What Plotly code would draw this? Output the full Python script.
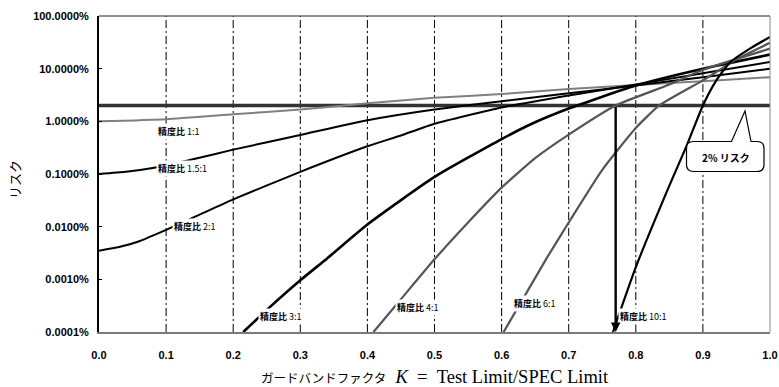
import math
import plotly.graph_objects as go

# Guard band factor K (test limit / spec limit) and consumer risk in percent
k_1to1 = [0.0, 0.1, 0.2, 0.3, 0.4, 0.5, 0.6, 0.7, 0.8, 0.9, 1.0]
risk_1to1 = [1.0, 1.1, 1.36, 1.67, 2.2, 2.8, 3.3, 4.1, 4.9, 5.8, 6.9]

k_1p5to1 = [0.0, 0.04, 0.08, 0.14, 0.2, 0.3, 0.4, 0.5, 0.6, 0.7, 0.8, 0.9, 1.0]
risk_1p5to1 = [0.10, 0.11, 0.13, 0.19, 0.29, 0.55, 1.05, 1.68, 2.4, 3.4, 4.8, 6.9, 10.0]

k_2to1 = [0.0, 0.03, 0.06, 0.1, 0.145, 0.2, 0.3, 0.4, 0.45, 0.5, 0.6, 0.7, 0.8, 0.9, 1.0]
risk_2to1 = [0.0035, 0.0041, 0.0053, 0.0087, 0.0158, 0.033, 0.11, 0.336, 0.54, 0.9,
             1.83, 3.1, 5.0, 8.2, 13.4]

k_3to1 = [0.215, 0.255, 0.3, 0.34, 0.4, 0.5, 0.6, 0.645, 0.7, 0.8, 0.9, 1.0]
risk_3to1 = [0.0001, 0.0003, 0.00096, 0.0025, 0.011, 0.088, 0.46, 0.9, 1.75, 4.8, 10.0, 18.5]

k_4to1 = [0.409, 0.45, 0.5, 0.55, 0.6, 0.65, 0.7, 0.77, 0.85, 0.9, 1.0]
risk_4to1 = [0.0001, 0.00042, 0.0024, 0.012, 0.055, 0.2, 0.56, 2.0, 5.0, 9.5, 24.0]

k_6to1 = [0.603, 0.667, 0.7, 0.75, 0.8, 0.835, 0.9, 0.95, 1.0]
risk_6to1 = [0.0001, 0.0025, 0.012, 0.12, 0.75, 2.0, 6.0, 15.0, 31.0]

k_10to1 = [0.766, 0.8, 0.85, 0.876, 0.9, 0.92, 0.94, 0.97, 1.0]
risk_10to1 = [0.0001, 0.0017, 0.06, 0.35, 2.0, 6.0, 13.0, 24.0, 40.0]

# Acceptable risk level and the K where the 4:1 curve reaches it
risk_limit = 2.0
k_at_limit_4to1 = 0.77

# Axis ticks
x_ticks = [0.0, 0.1, 0.2, 0.3, 0.4, 0.5, 0.6, 0.7, 0.8, 0.9, 1.0]
x_tick_text = ["0.0", "0.1", "0.2", "0.3", "0.4", "0.5", "0.6", "0.7", "0.8", "0.9", "1.0"]
y_ticks = [100, 10, 1, 0.1, 0.01, 0.001, 0.0001]
y_tick_text = ["100.0000%", "10.0000%", "1.0000%", "0.1000%", "0.0100%", "0.0010%", "0.0001%"]

# Curve labels: ratio text, K position, risk position
curve_labels = [
    ("1:1", 0.119, 0.65),
    ("1.5:1", 0.124, 0.128),
    ("2:1", 0.143, 0.0102),
    ("3:1", 0.271, 0.000199),
    ("4:1", 0.475, 0.000294),
    ("6:1", 0.650, 0.000351),
    ("10:1", 0.811, 0.000199),
]

W, H = 779, 387
ML, MR, MT, MB = 99, 9, 16, 55
PW, PH = W - ML - MR, H - MT - MB

def px(x):
    return (x - ML) / PW

def py(y):
    return (H - MB - y) / PH

GRAY_LIGHT = "#808080"
GRAY_DARK = "#555555"

series = [
    (k_1to1, risk_1to1, GRAY_LIGHT, 2.0),
    (k_1p5to1, risk_1p5to1, "black", 2.0),
    (k_2to1, risk_2to1, "black", 2.0),
    (k_3to1, risk_3to1, "black", 2.6),
    (k_4to1, risk_4to1, GRAY_DARK, 2.2),
    (k_6to1, risk_6to1, GRAY_DARK, 2.2),
    (k_10to1, risk_10to1, "black", 2.2),
]

fig = go.Figure()

# 2% risk threshold
fig.add_trace(go.Scatter(x=[0.0, 1.0], y=[risk_limit, risk_limit], mode="lines",
                         line=dict(color="#333333", width=3.6), hoverinfo="skip"))

for kx, ry, col, wd in series:
    fig.add_trace(go.Scatter(x=kx, y=ry, mode="lines",
                             line=dict(color=col, width=wd, shape="spline", smoothing=0.5),
                             hoverinfo="skip"))

shapes = []
# dash-dot vertical guides at every 0.1
for k in x_ticks[1:-1]:
    shapes.append(dict(type="line", xref="x", yref="paper", x0=k, x1=k, y0=0, y1=1,
                       line=dict(color="black", width=1, dash="8px,3px,2px,3px"), layer="below"))
# frame: top and right edges
shapes.append(dict(type="line", xref="paper", yref="paper", x0=0, x1=1, y0=1, y1=1,
                   line=dict(color="#222222", width=1)))
shapes.append(dict(type="line", xref="paper", yref="paper", x0=1, x1=1, y0=0, y1=1,
                   line=dict(color="#8a8a8a", width=1)))

# speech-bubble callout for the 2% line
bx0, bx1, by0, by1, r = 686.5, 764.0, 141.5, 171.5, 7
tip = (745.0, 111.0)
b_left, b_right = 731.5, 751.0
pts = [
    ("M", (bx0 + r, by0)), ("L", (b_left, by0)), ("L", tip), ("L", (b_right, by0)),
    ("L", (bx1 - r, by0)), ("Q", (bx1, by0), (bx1, by0 + r)),
    ("L", (bx1, by1 - r)), ("Q", (bx1, by1), (bx1 - r, by1)),
    ("L", (bx0 + r, by1)), ("Q", (bx0, by1), (bx0, by1 - r)),
    ("L", (bx0, by0 + r)), ("Q", (bx0, by0), (bx0 + r, by0)),
]
path = ""
for item in pts:
    cmd = item[0]
    coords = " ".join(f"{px(p[0]):.5f},{py(p[1]):.5f}" for p in item[1:])
    path += f"{cmd} {coords} "
path += "Z"
shapes.append(dict(type="path", xref="paper", yref="paper", path=path,
                   fillcolor="white", line=dict(color="black", width=1.2)))

annotations = []
for ratio, kx, ry in curve_labels:
    annotations.append(dict(x=kx, y=math.log10(ry), xref="x", yref="y",
                            xanchor="center", yanchor="middle",
                            text=f"<b>精度比</b> {ratio}",
                            showarrow=False, bgcolor="white", borderpad=1,
                            font=dict(family="Noto Sans CJK JP", size=9, color="black")))

# arrow from the 2% crossing of the 4:1 curve down to the K axis
annotations.append(dict(x=k_at_limit_4to1, y=math.log10(y_ticks[-1]), xref="x", yref="y",
                        ax=k_at_limit_4to1, ay=math.log10(risk_limit), axref="x", ayref="y",
                        text="", showarrow=True, arrowhead=2, arrowsize=0.8, arrowwidth=2.4,
                        arrowcolor="black", standoff=0, startstandoff=0))

annotations.append(dict(x=px(725.5), y=py(157), xref="paper", yref="paper",
                        xanchor="center", yanchor="middle",
                        text="<b>2% リスク</b>", showarrow=False,
                        font=dict(family="Noto Sans CJK JP", size=10, color="black")))

annotations.append(dict(x=px(434.5), y=py(377), xref="paper", yref="paper",
                        xanchor="center", yanchor="middle", showarrow=False,
                        text="<span style='font-family:Noto Sans CJK JP;font-size:12.5px'>ガードバンドファクタ</span>"
                             "&nbsp;&nbsp;<i>K</i>&nbsp;&nbsp;=&nbsp;&nbsp;Test&nbsp;Limit/SPEC&nbsp;Limit",
                        font=dict(family="Liberation Serif", size=18.5, color="black")))
annotations.append(dict(x=px(14), y=py(180), xref="paper", yref="paper",
                        xanchor="center", yanchor="middle", showarrow=False,
                        text="リスク", textangle=-90,
                        font=dict(family="Noto Sans CJK JP", size=13, color="black")))

fig.update_layout(
    width=W, height=H,
    margin=dict(l=ML, r=MR, t=MT, b=MB, autoexpand=False),
    paper_bgcolor="white", plot_bgcolor="white",
    showlegend=False,
    shapes=shapes,
    annotations=annotations,
)
fig.update_xaxes(range=[0, 1], tickvals=x_ticks, ticktext=x_tick_text, ticks="",
                 showgrid=False, zeroline=False, showline=True, linecolor="#7a7a7a", linewidth=2,
                 ticklabelstandoff=12, automargin=False,
                 tickfont=dict(family="Liberation Sans", size=11, color="black", weight="bold"))
fig.update_yaxes(type="log", range=[-4, 2], tickvals=y_ticks, ticktext=y_tick_text,
                 ticks="inside", ticklen=3, tickcolor="black", tickwidth=1,
                 showgrid=False, zeroline=False, showline=True, linecolor="black", linewidth=2,
                 ticklabelstandoff=6, automargin=False,
                 tickfont=dict(family="Liberation Sans", size=11, color="black", weight="bold"))

fig.write_html("out.html")
